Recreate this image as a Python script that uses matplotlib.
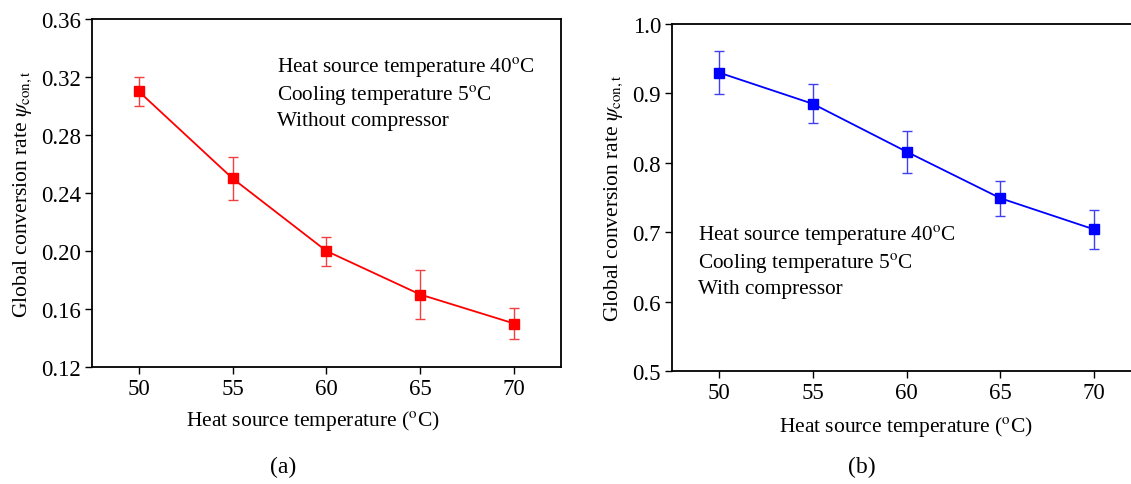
import matplotlib
matplotlib.use("Agg")
import matplotlib.pyplot as plt

plt.rcParams['font.family'] = ['Liberation Serif', 'DejaVu Serif']
plt.rcParams['mathtext.fontset'] = 'stix'

temps = [50, 55, 60, 65, 70]
psi_a = [0.31, 0.25, 0.20, 0.17, 0.15]
err_a = [0.010, 0.015, 0.010, 0.017, 0.011]
psi_b = [0.930, 0.885, 0.816, 0.749, 0.704]
err_b = [0.031, 0.028, 0.030, 0.025, 0.028]

yticks_a = [0.12, 0.16, 0.20, 0.24, 0.28, 0.32, 0.36]
yticks_b = [0.5, 0.6, 0.7, 0.8, 0.9, 1.0]

fig = plt.figure(figsize=(11.31, 4.85), dpi=100)
axA = fig.add_axes([0.0813, 0.2412, 0.4147, 0.7176])
axB = fig.add_axes([0.5942, 0.2330, 0.4147, 0.7155])

ylab = r'Global conversion rate $\it{\psi}_{\rm con,t}$'
xlab = r'Heat source temperature ($^{\rm o}$C)'

def style(ax, yticks, fmt):
    ax.set_xlim(47.5, 72.5)
    ax.set_xticks(temps)
    ax.set_xticklabels([str(t) for t in temps])
    ax.set_ylim(yticks[0], yticks[-1])
    ax.set_yticks(yticks)
    ax.set_yticklabels([fmt.format(v) for v in yticks])
    ax.tick_params(direction='out', length=5, width=1, labelsize=16.5, pad=3)
    for s in ax.spines.values():
        s.set_linewidth(1.3)
    ax.set_xlabel(xlab, fontsize=15.5, labelpad=9)
    ax.set_ylabel(ylab, fontsize=15.5, labelpad=5)

axA.errorbar(temps, psi_a, yerr=err_a, color='#ff0000', marker='s', ms=7,
             lw=1.3, capsize=3.5, elinewidth=1, ecolor='#f04040')
style(axA, yticks_a, '{:.2f}')
axA.xaxis.set_label_coords(0.472, -0.117)
axA.text(0.395, 0.895, 'Heat source temperature 40$^{\\rm o}$C\nCooling temperature 5$^{\\rm o}$C\nWithout compressor',
         transform=axA.transAxes, fontsize=15.3, va='top', ha='left', linespacing=1.3)

axB.errorbar(temps, psi_b, yerr=err_b, color='#0000ff', marker='s', ms=7,
             lw=1.3, capsize=3.5, elinewidth=1, ecolor='#4040f0')
style(axB, yticks_b, '{:.1f}')
axB.xaxis.set_label_coords(0.5, -0.125)
axB.text(0.055, 0.425, 'Heat source temperature 40$^{\\rm o}$C\nCooling temperature 5$^{\\rm o}$C\nWith compressor',
         transform=axB.transAxes, fontsize=15.3, va='top', ha='left', linespacing=1.3)

fig.text(283/1131, 1 - 467/485, '(a)', fontsize=17, ha='center', va='center')
fig.text(862/1131, 1 - 467/485, '(b)', fontsize=17, ha='center', va='center')

fig.savefig('out.png', dpi=100)
